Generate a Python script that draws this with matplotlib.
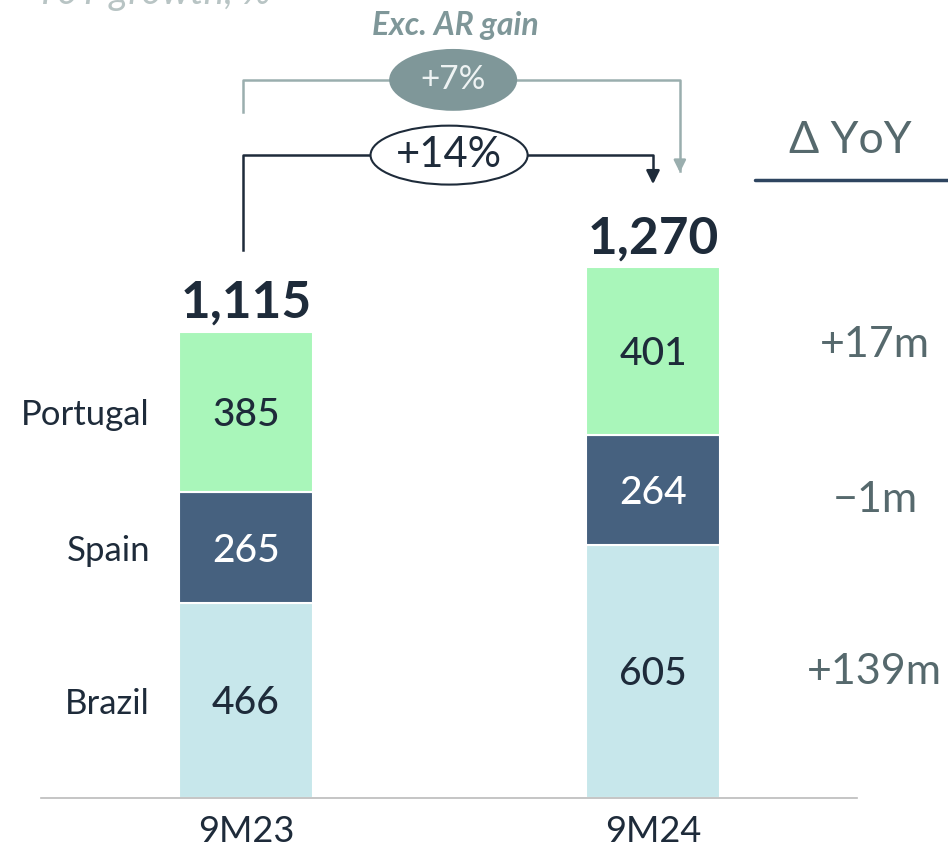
import matplotlib.pyplot as plt
from matplotlib.patches import Ellipse

# data
periods = ["9M23", "9M24"]
countries = ["Brazil", "Spain", "Portugal"]
brazil = [466, 605]
spain = [265, 264]
portugal = [385, 401]
totals = ["1,115", "1,270"]
deltas = ["+139m", "\u22121m", "+17m"]
growth_total = "+14%"
growth_exc = "+7%"

colors = ["#C7E7EB", "#46617F", "#A9F6BA"]
txt_colors = ["#1E2B3A", "white", "#1E2B3A"]
dark = "#1E2B3A"
grey = "#7F9799"
teal = "#56696D"

plt.rcParams['font.family'] = ['Lato', 'DejaVu Sans']

fig = plt.figure(figsize=(9.48, 8.52), dpi=100)
ax = fig.add_axes([0, 0, 1, 1])
ax.set_xlim(-246 / 407, (948 - 246) / 407)
ax.set_ylim(-54 / 0.418, 798 / 0.418)
ax.axis('off')

x = [0, 1]
w = 0.33
bottom = [0, 0]
for vals, c, tc in zip([brazil, spain, portugal], colors, txt_colors):
    ax.bar(x, vals, width=w, bottom=bottom, color=c, edgecolor='white', linewidth=1.5)
    for i in range(2):
        ax.text(x[i], bottom[i] + vals[i] / 2 - 8, str(vals[i]), ha='center', va='center',
                fontsize=28, color=tc, fontweight='medium')
    bottom = [b + v for b, v in zip(bottom, vals)]

# totals
sums = bottom
for i in range(2):
    ax.text(x[i], sums[i] + 33, totals[i], ha='center', va='baseline',
            fontsize=37, fontweight='bold', color=dark)

# baseline
ax.plot([-0.503, 1.502], [0, 0], color='#BBBBBB', lw=1.2)

# category labels
for i in range(2):
    ax.text(x[i], -81, periods[i], ha='center', va='center', fontsize=26, color=dark)

# country labels left of 9M23
mids = [brazil[0] / 2, brazil[0] + spain[0] / 2, brazil[0] + spain[0] + portugal[0] / 2]
for name, m in zip(countries, mids):
    ax.text(-0.236, m - 8, name, ha='right', va='center', fontsize=25, color=dark)

# delta labels
mids24 = [brazil[1] / 2, brazil[1] + spain[1] / 2 - 24, brazil[1] + spain[1] + portugal[1] / 2 + 14]
for d, m in zip(deltas, mids24):
    ax.text(1.545, m, d, ha='center', va='center', fontsize=31, color=teal)

ax.text(1.486, 1574, "\u0394 YoY", ha='center', va='center', fontsize=32, color=teal)
ax.plot([1.25, 1.725], [1478, 1478], color='#2E4560', lw=2.5, solid_capstyle='round')

# grey bracket (exc. AR gain)
ax.plot([-0.007, -0.007, 1.066, 1.066], [1641, 1718, 1718, 1500], color='#9AAEAE', lw=1.8)
ax.annotate("", xy=(1.066, 1490), xytext=(1.066, 1530),
            arrowprops=dict(arrowstyle='-|>', color='#9AAEAE', lw=1.8, mutation_scale=18))
ax.add_patch(Ellipse((0.509, 1718), 0.3145, 148, facecolor=grey, edgecolor='none', zorder=3))
ax.text(0.509, 1718, growth_exc, ha='center', va='center', fontsize=24, color='#EEF3F3',
        zorder=4)
ax.text(0.514, 1849, "Exc. AR gain", ha='center', va='center', fontsize=23,
        color=grey, style='italic', fontweight='bold')

# dark bracket
ax.plot([-0.007, -0.007, 1.0, 1.0], [1311, 1538, 1538, 1480], color=dark, lw=1.8)
ax.annotate("", xy=(1.0, 1462), xytext=(1.0, 1500),
            arrowprops=dict(arrowstyle='-|>', color=dark, lw=1.8, mutation_scale=20))
ax.add_patch(Ellipse((0.499, 1538), 0.386, 141, facecolor='white', edgecolor=dark, lw=1.5, zorder=3))
ax.text(0.499, 1538, growth_total, ha='center', va='center', fontsize=30, color=dark, zorder=4)

# subtitle, cut off by the top edge as in the source slide
ax.text(-0.518, 1925, "YoY growth, %", ha='left', va='center', fontsize=28,
        color='#B8C4C4', style='italic')

fig.savefig("out.png", dpi=100)
